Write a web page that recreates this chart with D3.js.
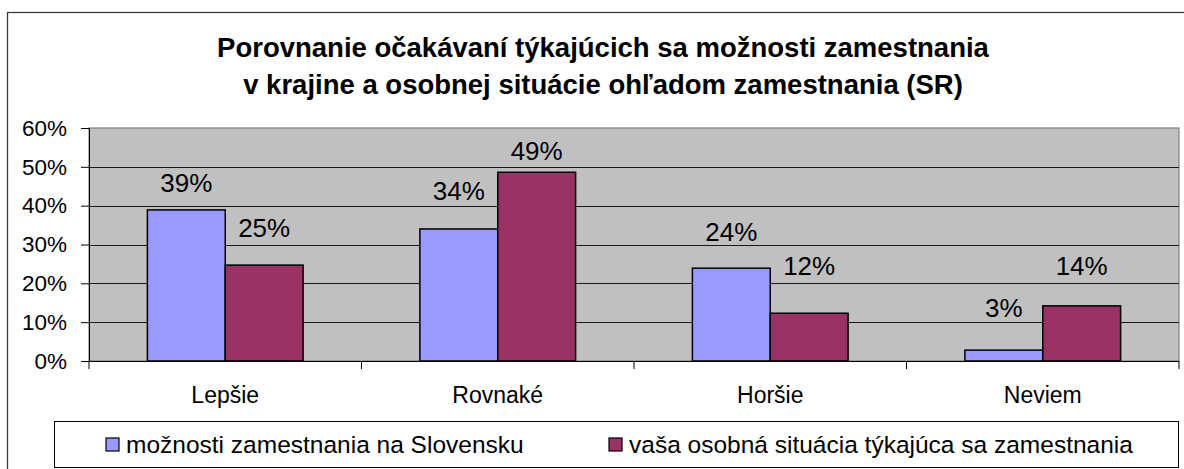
<!DOCTYPE html>
<html>
<head>
<meta charset="utf-8">
<script src="https://cdn.jsdelivr.net/npm/d3@7"></script>
<style>
  html, body { margin: 0; padding: 0; background: #fff; }
  svg { display: block; }
  text { font-family: "Liberation Sans", Arial, sans-serif; fill: #000; }
</style>
</head>
<body>
<script>
// ---- data ----
const categories = ["Lepšie", "Rovnaké", "Horšie", "Neviem"];
const seriesNames = ["možnosti zamestnania na Slovensku", "vaša osobná situácia týkajúca sa zamestnania"];
const seriesSlovensko = [38.9, 34.0, 23.9, 2.8];
const seriesOsobna = [24.7, 48.6, 12.3, 14.2];
const yTicks = [0, 10, 20, 30, 40, 50, 60];
const titleLines = ["Porovnanie očakávaní týkajúcich sa možnosti zamestnania",
                    "v krajine a osobnej situácie ohľadom zamestnania (SR)"];
// label nudges (layout, px above bar top) for [series][category]
const labelDy = [[-18, -29, -27, -33], [-28, -12, -38, -31]];

const colors = ["#9999FF", "#993366"];

const W = 1184, H = 469;
const plot = { left: 89, right: 1179, top: 128, bottom: 361 };

const svg = d3.select("body").append("svg").attr("width", W).attr("height", H);

// outer chart frame (extends beyond the window at right/bottom)
svg.append("rect").attr("x", 7.5).attr("y", 12.5).attr("width", W + 20).attr("height", H + 20)
  .attr("fill", "#fff").attr("stroke", "#3a3a3a").attr("stroke-width", 1.3);

// title
svg.append("g").selectAll("text").data(titleLines).join("text")
  .attr("x", 603).attr("y", (d, i) => 57 + i * 37)
  .attr("text-anchor", "middle").attr("font-weight", "bold").attr("font-size", 27.5)
  .text(d => d);

const x0 = d3.scaleBand().domain(categories).range([plot.left, plot.right]).paddingInner(0).paddingOuter(0);
const barW = x0.bandwidth() / 3.5;
const x1 = d3.scaleBand().domain([0, 1]).range([0, barW * 2]);
const y = d3.scaleLinear().domain([0, 60]).range([plot.bottom, plot.top]);

// plot area
svg.append("rect").attr("x", plot.left).attr("y", plot.top)
  .attr("width", plot.right - plot.left).attr("height", plot.bottom - plot.top)
  .attr("fill", "#C0C0C0").attr("stroke", "#808080").attr("stroke-width", 1.2);

// gridlines
svg.append("g").selectAll("line").data(yTicks.filter(t => t > 0 && t < 60)).join("line")
  .attr("x1", plot.left).attr("x2", plot.right)
  .attr("y1", d => Math.round(y(d)) + 0.5).attr("y2", d => Math.round(y(d)) + 0.5)
  .attr("stroke", "#1a1a1a").attr("stroke-width", 1);

// y axis
const yAxis = d3.axisLeft(y).tickValues(yTicks).tickFormat(d => d + "%").tickSize(8).tickPadding(14);
const gy = svg.append("g").attr("transform", `translate(${plot.left},0)`).call(yAxis);
gy.select(".domain").attr("stroke", "#000").attr("stroke-width", 1);
gy.selectAll(".tick line").attr("stroke", "#000");
gy.selectAll(".tick text").attr("font-size", 22.5).attr("font-family", null).attr("fill", "#000");

// x axis: category boundary ticks
const gx = svg.append("g").attr("transform", `translate(0,${plot.bottom})`);
gx.append("line").attr("x1", plot.left).attr("x2", plot.right).attr("y1", 0.5).attr("y2", 0.5)
  .attr("stroke", "#000").attr("stroke-width", 1.2);
const boundaries = categories.map(c => x0(c)).concat([plot.right]);
gx.selectAll("line.tk").data(boundaries).join("line").attr("class", "tk")
  .attr("x1", d => d).attr("x2", d => d).attr("y1", 0).attr("y2", 8)
  .attr("stroke", "#000").attr("stroke-width", 1);
gx.selectAll("text").data(categories).join("text")
  .attr("x", d => x0(d) + x0.bandwidth() / 2).attr("y", 42)
  .attr("text-anchor", "middle").attr("font-size", 23).text(d => d);

// bars
const series = [seriesSlovensko, seriesOsobna];
const groups = svg.append("g").selectAll("g").data(series).join("g");
groups.each(function(vals, si) {
  const g = d3.select(this);
  g.selectAll("rect").data(vals).join("rect")
    .attr("x", (d, ci) => x0(categories[ci]) + (x0.bandwidth() - barW * 2) / 2 + x1(si))
    .attr("y", d => y(d))
    .attr("width", barW).attr("height", d => y(0) - y(d))
    .attr("fill", colors[si]).attr("stroke", "#000").attr("stroke-width", 1.5);
  g.selectAll("text").data(vals).join("text")
    .attr("x", (d, ci) => x0(categories[ci]) + (x0.bandwidth() - barW * 2) / 2 + x1(si) + barW / 2)
    .attr("y", (d, ci) => y(d) + labelDy[si][ci])
    .attr("text-anchor", "middle").attr("font-size", 26)
    .text(d => Math.round(d) + "%");
});

// legend
const lg = svg.append("g");
lg.append("rect").attr("x", 54.5).attr("y", 421.5).attr("width", 1124).attr("height", 46)
  .attr("fill", "#fff").attr("stroke", "#000").attr("stroke-width", 1);
const legendX = [106, 609];
seriesNames.forEach((name, i) => {
  lg.append("rect").attr("x", legendX[i]).attr("y", 438).attr("width", 13).attr("height", 13)
    .attr("fill", colors[i]).attr("stroke", "#000").attr("stroke-width", 1.2);
  lg.append("text").attr("x", legendX[i] + 20).attr("y", 453).attr("font-size", 24.5).text(name);
});
</script>
</body>
</html>
